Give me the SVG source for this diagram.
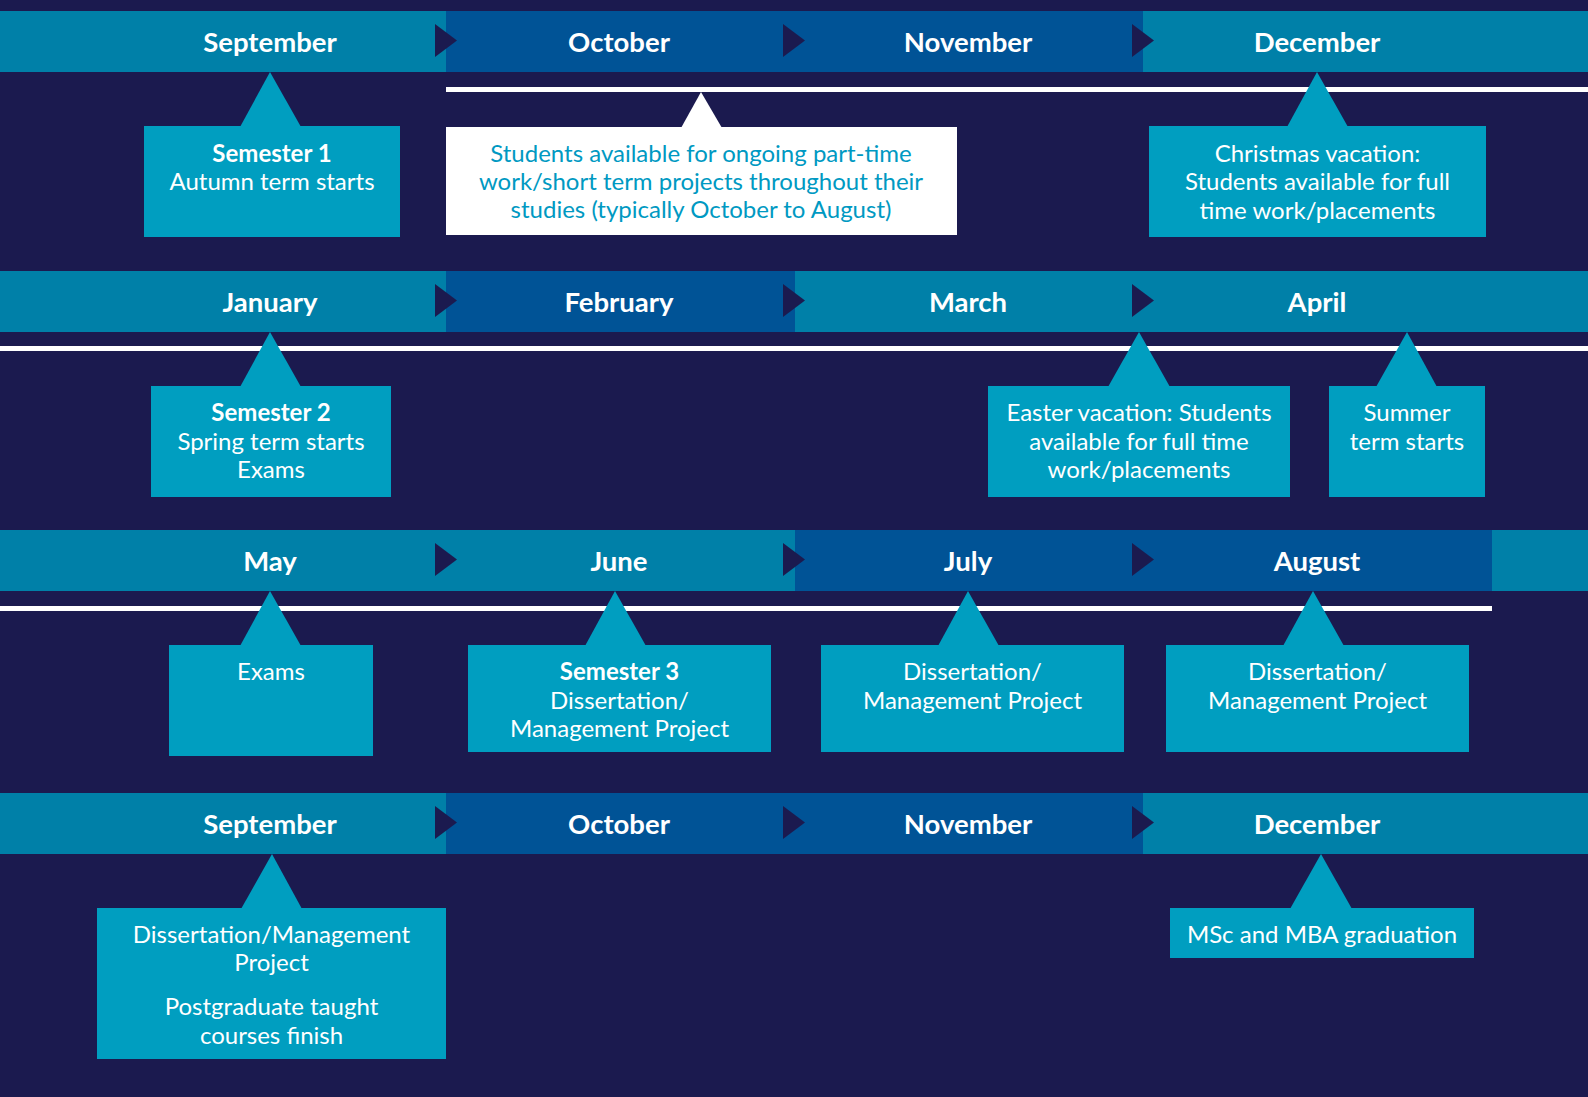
<svg xmlns="http://www.w3.org/2000/svg" width="1588" height="1097" viewBox="0 0 1588 1097">
<style>
.bg{fill:#1b1a4f}
.light{fill:#0080a8}
.dark{fill:#005396}
.arrow{fill:#1b1a4f}
.rule{fill:#ffffff}
.box{fill:#009ec0}
.wbox{fill:#ffffff}
text{font-family:Lato,'Open Sans','Liberation Sans',sans-serif;text-anchor:middle}
.month{fill:#ffffff;font-size:27.5px;font-weight:700}
.lbl{fill:#ffffff;font-size:24px}
.lbl .b{font-weight:700}
.tlbl{fill:#0099c2;font-size:24px}
</style>
<rect class="bg" x="0" y="0" width="1588" height="1097"/>

<!-- Row 1 months -->
<g id="row1-months">
  <g id="m-sep-1"><rect class="light" x="0" y="11" width="446" height="61"/><text class="month" x="270" y="52">September</text></g>
  <g id="m-oct-1"><rect class="dark" x="446" y="11" width="349" height="61"/><text class="month" x="619" y="52">October</text></g>
  <g id="m-nov-1"><rect class="dark" x="795" y="11" width="348" height="61"/><text class="month" x="968" y="52">November</text></g>
  <g id="m-dec-1"><rect class="light" x="1143" y="11" width="445" height="61"/><text class="month" x="1317" y="52">December</text></g>
</g>
<!-- Row 2 months -->
<g id="row2-months">
  <g id="m-jan"><rect class="light" x="0" y="271" width="446" height="61"/><text class="month" x="270" y="312">January</text></g>
  <g id="m-feb"><rect class="dark" x="446" y="271" width="349" height="61"/><text class="month" x="619" y="312">February</text></g>
  <g id="m-mar"><rect class="light" x="795" y="271" width="348" height="61"/><text class="month" x="968" y="312">March</text></g>
  <g id="m-apr"><rect class="light" x="1143" y="271" width="445" height="61"/><text class="month" x="1317" y="312">April</text></g>
</g>
<!-- Row 3 months -->
<g id="row3-months">
  <g id="m-may"><rect class="light" x="0" y="530" width="446" height="61"/><text class="month" x="270" y="571">May</text></g>
  <g id="m-jun"><rect class="light" x="446" y="530" width="349" height="61"/><text class="month" x="619" y="571">June</text></g>
  <g id="m-jul"><rect class="dark" x="795" y="530" width="348" height="61"/><text class="month" x="968" y="571">July</text></g>
  <g id="m-aug"><rect class="dark" x="1143" y="530" width="349" height="61"/><text class="month" x="1317" y="571">August</text></g>
  <rect class="light" x="1492" y="530" width="96" height="61"/>
</g>
<!-- Row 4 months -->
<g id="row4-months">
  <g id="m-sep-2"><rect class="light" x="0" y="793" width="446" height="61"/><text class="month" x="270" y="834">September</text></g>
  <g id="m-oct-2"><rect class="dark" x="446" y="793" width="349" height="61"/><text class="month" x="619" y="834">October</text></g>
  <g id="m-nov-2"><rect class="dark" x="795" y="793" width="348" height="61"/><text class="month" x="968" y="834">November</text></g>
  <g id="m-dec-2"><rect class="light" x="1143" y="793" width="445" height="61"/><text class="month" x="1317" y="834">December</text></g>
</g>

<!-- Connectors: month arrows and white timeline rules -->
<g id="connectors">
  <polygon class="arrow" points="435,24 457,40.5 435,57"/>
  <polygon class="arrow" points="783,24 805,40.5 783,57"/>
  <polygon class="arrow" points="1132,24 1154,40.5 1132,57"/>
  <polygon class="arrow" points="435,284 457,300.5 435,317"/>
  <polygon class="arrow" points="783,284 805,300.5 783,317"/>
  <polygon class="arrow" points="1132,284 1154,300.5 1132,317"/>
  <polygon class="arrow" points="435,543 457,559.5 435,576"/>
  <polygon class="arrow" points="783,543 805,559.5 783,576"/>
  <polygon class="arrow" points="1132,543 1154,559.5 1132,576"/>
  <polygon class="arrow" points="435,806 457,822.5 435,839"/>
  <polygon class="arrow" points="783,806 805,822.5 783,839"/>
  <polygon class="arrow" points="1132,806 1154,822.5 1132,839"/>
  <rect class="rule" x="446" y="87" width="1142" height="5"/>
  <rect class="rule" x="0" y="346" width="1588" height="5"/>
  <rect class="rule" x="0" y="606" width="1492" height="5"/>
</g>

<!-- Row 1 callouts -->
<g id="n-semester1">
  <polygon class="box" points="270,72 301,127 240,127"/>
  <rect class="box" x="144" y="126" width="256" height="111"/>
  <text class="lbl" x="272"><tspan class="b" x="272" y="161.5">Semester 1</tspan><tspan x="272" y="190">Autumn term starts</tspan></text>
</g>
<g id="n-parttime">
  <polygon class="wbox" points="701,92 722,128 681,128"/>
  <rect class="wbox" x="446" y="127" width="511" height="108"/>
  <text class="tlbl" x="701"><tspan x="701" y="162">Students available for ongoing part-time</tspan><tspan x="701" y="190">work/short term projects throughout their</tspan><tspan x="701" y="218">studies (typically October to August)</tspan></text>
</g>
<g id="n-christmas">
  <polygon class="box" points="1317,72 1348,127 1287,127"/>
  <rect class="box" x="1149" y="126" width="337" height="111"/>
  <text class="lbl" x="1317.5"><tspan x="1317.5" y="161.5">Christmas vacation:</tspan><tspan x="1317.5" y="190">Students available for full</tspan><tspan x="1317.5" y="218.5">time work/placements</tspan></text>
</g>

<!-- Row 2 callouts -->
<g id="n-semester2">
  <polygon class="box" points="270,332 301,387 240,387"/>
  <rect class="box" x="151" y="386" width="240" height="111"/>
  <text class="lbl" x="271"><tspan class="b" x="271" y="421">Semester 2</tspan><tspan x="271" y="449.5">Spring term starts</tspan><tspan x="271" y="478">Exams</tspan></text>
</g>
<g id="n-easter">
  <polygon class="box" points="1139,332 1170,387 1108,387"/>
  <rect class="box" x="988" y="386" width="302" height="111"/>
  <text class="lbl" x="1139"><tspan x="1139" y="421">Easter vacation: Students</tspan><tspan x="1139" y="449.5">available for full time</tspan><tspan x="1139" y="478">work/placements</tspan></text>
</g>
<g id="n-summer">
  <polygon class="box" points="1407,332 1437,387 1376,387"/>
  <rect class="box" x="1329" y="386" width="156" height="111"/>
  <text class="lbl" x="1407"><tspan x="1407" y="421">Summer</tspan><tspan x="1407" y="449.5">term starts</tspan></text>
</g>

<!-- Row 3 callouts -->
<g id="n-exams">
  <polygon class="box" points="270,591 301,646 240,646"/>
  <rect class="box" x="169" y="645" width="204" height="111"/>
  <text class="lbl" x="271" y="680">Exams</text>
</g>
<g id="n-semester3">
  <polygon class="box" points="615,591 646,646 585,646"/>
  <rect class="box" x="468" y="645" width="303" height="107"/>
  <text class="lbl" x="619.5"><tspan class="b" x="619.5" y="680">Semester 3</tspan><tspan x="619.5" y="708.5">Dissertation/</tspan><tspan x="619.5" y="737">Management Project</tspan></text>
</g>
<g id="n-july">
  <polygon class="box" points="968,591 999,646 938,646"/>
  <rect class="box" x="821" y="645" width="303" height="107"/>
  <text class="lbl" x="972.5"><tspan x="972.5" y="680">Dissertation/</tspan><tspan x="972.5" y="708.5">Management Project</tspan></text>
</g>
<g id="n-august">
  <polygon class="box" points="1313,591 1344,646 1283,646"/>
  <rect class="box" x="1166" y="645" width="303" height="107"/>
  <text class="lbl" x="1317.5"><tspan x="1317.5" y="680">Dissertation/</tspan><tspan x="1317.5" y="708.5">Management Project</tspan></text>
</g>

<!-- Row 4 callouts -->
<g id="n-finish">
  <polygon class="box" points="272,854 302,909 241,909"/>
  <rect class="box" x="97" y="908" width="349" height="151"/>
  <text class="lbl" x="271.5"><tspan x="271.5" y="942.5">Dissertation/Management</tspan><tspan x="271.5" y="971">Project</tspan><tspan x="271.5" y="1015">Postgraduate taught</tspan><tspan x="271.5" y="1043.5">courses finish</tspan></text>
</g>
<g id="n-graduation">
  <polygon class="box" points="1321,854 1352,909 1290,909"/>
  <rect class="box" x="1170" y="908" width="304" height="50"/>
  <text class="lbl" x="1322" y="942.5">MSc and MBA graduation</text>
</g>
</svg>
